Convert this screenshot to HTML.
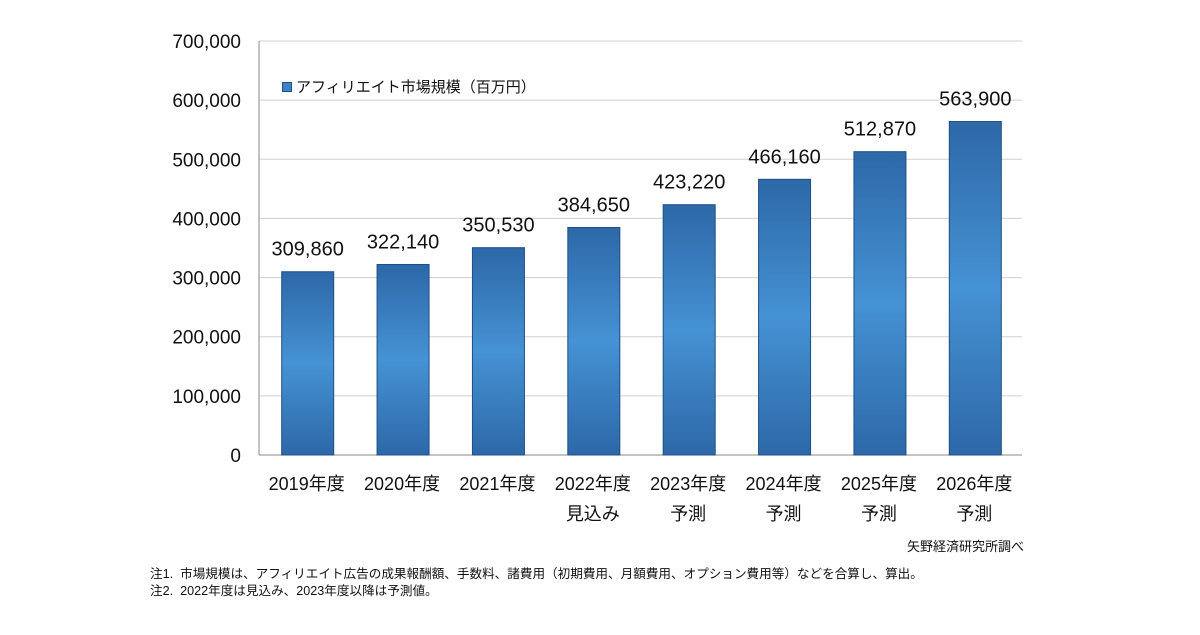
<!DOCTYPE html>
<html><head><meta charset="utf-8"><style>
body{margin:0;background:#fff;width:1200px;height:630px;overflow:hidden;font-family:"Liberation Sans","Noto Sans CJK JP",sans-serif}
svg text{font-family:"Liberation Sans","Noto Sans CJK JP",sans-serif;fill:#111}
</style></head><body>
<svg id="chart" width="1200" height="630" viewBox="0 0 1200 630">
<defs><linearGradient id="g" x1="0" y1="0" x2="0" y2="1">
<stop offset="0" stop-color="#2d68a8"/><stop offset="0.5" stop-color="#4592d4"/><stop offset="1" stop-color="#2d68a8"/></linearGradient></defs>
</svg>
<script>
const categories=["2019年度","2020年度","2021年度","2022年度","2023年度","2024年度","2025年度","2026年度"];
const subLabels=["","","","見込み","予測","予測","予測","予測"];
const values=[309860,322140,350530,384650,423220,466160,512870,563900];
const yTicks=[0,100000,200000,300000,400000,500000,600000,700000];
const svg=document.getElementById('chart');
const NS='http://www.w3.org/2000/svg';
const X0=259,X1=1022,Y0=455,Y1=41,YMAX=700000;
const band=(X1-X0)/categories.length;
const y=v=>Y0-(v/YMAX)*(Y0-Y1);
const xc=i=>X0+band*(i+0.5);
function mk(t,a,txt){const e=document.createElementNS(NS,t);for(const k in a)e.setAttribute(k,a[k]);if(txt!=null)e.textContent=txt;svg.appendChild(e);return e;}
yTicks.forEach(v=>{
 if(v>0){const l=mk('line',{x1:X0,x2:X1,y1:y(v),y2:y(v),stroke:'#d0d0d0','stroke-width':1});
 
 }
 const t=mk('text',{x:241,y:y(v)+7,'text-anchor':'end','font-size':19},v.toLocaleString('en-US'));
 
 
});
const ax=mk('line',{x1:X0,x2:X0,y1:Y1,y2:Y0,stroke:'#888','stroke-width':1});


const bx=mk('line',{x1:X0,x2:X1,y1:Y0,y2:Y0,stroke:'#888','stroke-width':1});


values.forEach((v,i)=>{
 const w=52;
 const r=mk('rect',{x:xc(i)-w/2+1,y:y(v),width:w,height:Y0-y(v),fill:'url(#g)',stroke:'#1f4f85','stroke-width':1});
 
 
 const t=mk('text',{x:xc(i)+1,y:y(v)-16,'text-anchor':'middle','font-size':20},v.toLocaleString('en-US'));
 
 
 const c=mk('text',{x:xc(i),y:490,'text-anchor':'middle','font-size':18},categories[i]);
 
 
 if(subLabels[i]){const s=mk('text',{x:xc(i),y:520,'text-anchor':'middle','font-size':18},subLabels[i]);
 
 }
});
</script>
<div style="position:absolute;left:282px;top:76px;font-size:15px;display:flex;align-items:center;color:#111">
<span style="width:8px;height:8px;background:#3b82c9;border:1px solid #1f4f85;margin-right:4px"></span>アフィリエイト市場規模（百万円）</div>
<div style="position:absolute;right:176px;top:536px;font-size:13px;color:#111">矢野経済研究所調べ</div>
<div style="position:absolute;left:150px;top:566px;font-size:12.6px;line-height:17px;color:#111">
<div>注1.&nbsp; 市場規模は、アフィリエイト広告の成果報酬額、手数料、諸費用（初期費用、月額費用、オプション費用等）などを合算し、算出。</div>
<div>注2.&nbsp; 2022年度は見込み、2023年度以降は予測値。</div></div>
</body></html>
